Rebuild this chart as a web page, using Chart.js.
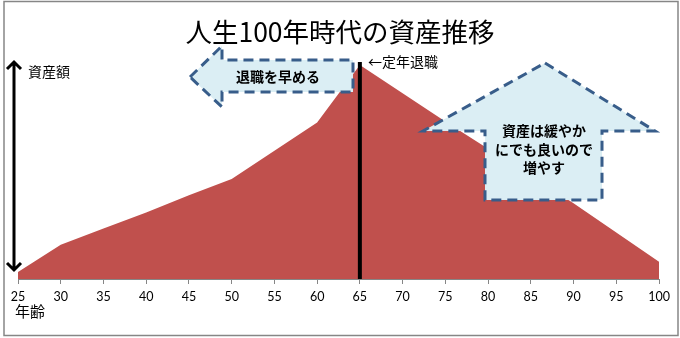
<!DOCTYPE html>
<html>
<head>
<meta charset="utf-8">
<script src="https://cdn.jsdelivr.net/npm/chart.js@4/dist/chart.umd.min.js"></script>
<style>
  body { margin: 0; background: #fff; }
  canvas { display: block; }
</style>
</head>
<body>
<canvas id="myChart" width="680" height="338"></canvas>
<script>
// 年齢ごとの資産額（相対値）
var ages = [25, 30, 35, 40, 45, 50, 55, 60, 65, 70, 75, 80, 85, 90, 95, 100];
var assetValues = [7, 34, 50, 66, 83, 99, 127, 155, 212, 184, 156, 129, 102, 75, 46, 17];
var retireAge = 65;

var chartTitle = "人生100年時代の資産推移";
var yLabel = "資産額";
var xLabel = "年齢";
var retireLabel = "←定年退職";
var leftArrowText = "退職を早める";
var upArrowText = ["資産は緩やか", "にでも良いので", "増やす"];

var jpFont = '"Noto Sans CJK JP", "Noto Sans", sans-serif';

function dashedShape(ctx, pts) {
  ctx.save();
  ctx.beginPath();
  ctx.moveTo(pts[0][0], pts[0][1]);
  for (var i = 1; i < pts.length; i++) ctx.lineTo(pts[i][0], pts[i][1]);
  ctx.closePath();
  ctx.fillStyle = "#dbeef4";
  ctx.fill();
  ctx.setLineDash([10, 6]);
  ctx.lineWidth = 3;
  ctx.strokeStyle = "#385d8a";
  ctx.stroke();
  ctx.restore();
}

// 注釈（タイトル・矢印・定年ライン）を描く
var notes = {
  id: "notes",
  afterDatasetsDraw(chart) {
    var ctx = chart.ctx;
    var xs = chart.scales.x;
    var ys = chart.scales.y;

    // 外枠
    ctx.save();
    ctx.strokeStyle = "#868686";
    ctx.lineWidth = 1.5;
    ctx.strokeRect(4, 1.5, 674, 334);

    // タイトル
    ctx.fillStyle = "#000";
    ctx.font = "26.5px " + jpFont;
    ctx.textAlign = "center";
    ctx.textBaseline = "middle";
    ctx.fillText(chartTitle, 340, 32);

    // 縦の両矢印
    ctx.strokeStyle = "#000";
    ctx.lineWidth = 3;
    ctx.beginPath();
    ctx.moveTo(14, 62);
    ctx.lineTo(14, 270);
    ctx.moveTo(7, 69); ctx.lineTo(14, 62); ctx.lineTo(21, 69);
    ctx.moveTo(7, 263); ctx.lineTo(14, 270); ctx.lineTo(21, 263);
    ctx.stroke();

    ctx.font = "14px " + jpFont;
    ctx.textAlign = "left";
    ctx.fillText(yLabel, 28, 72);
    ctx.font = "15px " + jpFont;
    ctx.fillText(xLabel, 15, 311);

    // 定年退職ライン
    var rx = xs.getPixelForValue(retireAge);
    ctx.lineWidth = 4;
    ctx.beginPath();
    ctx.moveTo(rx, ys.getPixelForValue(215));
    ctx.lineTo(rx, ys.getPixelForValue(0));
    ctx.stroke();
    ctx.font = "14px " + jpFont;
    ctx.fillText(retireLabel, 368, 62);
    ctx.restore();

    // 左向き矢印
    dashedShape(ctx, [[190, 77], [222, 46], [222, 60], [353, 60], [353, 92], [222, 92], [222, 107]]);
    // 上向き矢印
    dashedShape(ctx, [[545, 63], [655, 131], [602, 131], [602, 200], [485, 200], [485, 131], [423, 131]]);

    ctx.save();
    ctx.fillStyle = "#000";
    ctx.font = "bold 14px " + jpFont;
    ctx.textAlign = "center";
    ctx.textBaseline = "middle";
    ctx.fillText(leftArrowText, 278, 77);
    upArrowText.forEach(function (t, i) {
      ctx.fillText(t, 544, 131 + i * 18.5);
    });
    ctx.restore();
  }
};

new Chart("myChart", {
  type: "line",
  data: {
    datasets: [{
      data: ages.map(function (a, i) { return { x: a, y: assetValues[i] }; }),
      fill: "origin",
      backgroundColor: "#c0504d",
      borderWidth: 0,
      pointRadius: 0,
      tension: 0
    }]
  },
  options: {
    responsive: false,
    animation: false,
    layout: { padding: { left: 18, right: 21, top: 57, bottom: 29 } },
    plugins: { legend: { display: false }, tooltip: { enabled: false } },
    scales: {
      x: {
        type: "linear",
        min: 25,
        max: 100,
        ticks: { stepSize: 5, padding: 5, color: "#000", font: { family: "Lato", size: 12.5 } },
        grid: { drawOnChartArea: false, tickLength: 5, color: "#868686" },
        border: { color: "#868686" }
      },
      y: { display: false, min: 0, max: 220 }
    }
  },
  plugins: [notes]
});
</script>
</body>
</html>
